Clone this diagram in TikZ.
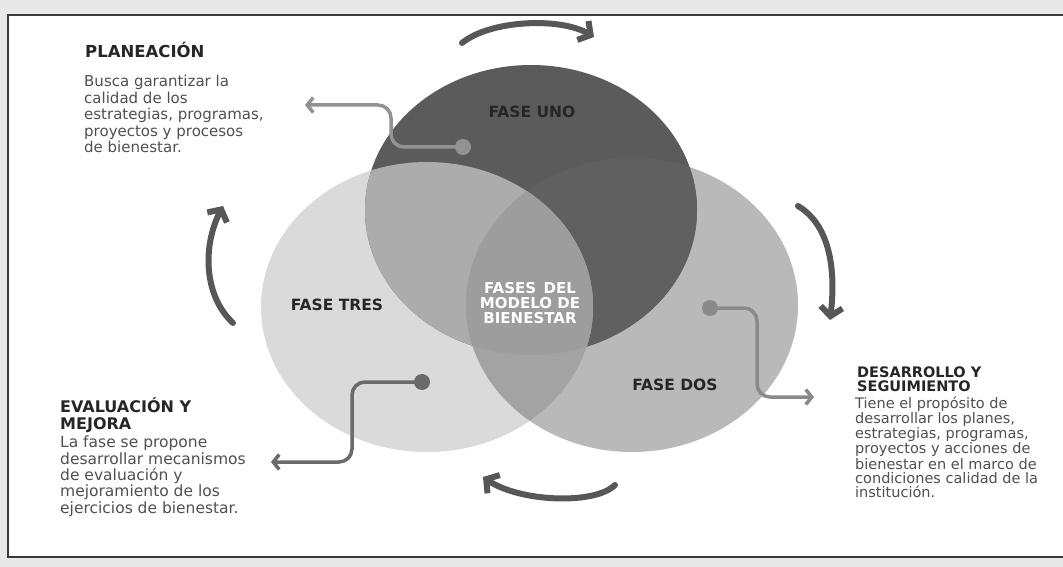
\documentclass[tikz,border=0pt]{standalone}
\usepackage{fontspec}
\setmainfont{DejaVu Sans}
\usetikzlibrary{arrows.meta}
\definecolor{scanbg}{HTML}{E8E8E8}
\definecolor{framec}{HTML}{3A3A3A}
\definecolor{ctres}{HTML}{DADADA}
\definecolor{cdos}{HTML}{B9B9B9}
\definecolor{cuno}{HTML}{5B5B5B}
\definecolor{cut}{HTML}{ACACAC}
\definecolor{ctd}{HTML}{A3A3A3}
\definecolor{cutd}{HTML}{9D9D9D}
\definecolor{cud}{HTML}{606060}
\definecolor{cyc}{HTML}{575757}
\definecolor{headc}{HTML}{262626}
\definecolor{bodyc}{HTML}{505050}
\definecolor{connA}{HTML}{929292}
\definecolor{connB}{HTML}{6A6A6A}
\definecolor{connC}{HTML}{8A8A8A}
\tikzset{
  cyclearrow/.style={draw=cyc, line width=6pt, line cap=round,
     -{Straight Barb[length=9pt,width=22pt]}},
  connline/.style={line width=3.5pt, rounded corners=13pt,
     -{Straight Barb[length=6pt,width=15pt]}},
  dotnode/.style={circle, inner sep=0pt, minimum size=16pt},
  heading/.style={anchor=base west, inner sep=0pt, text=headc, align=left, font=\bfseries},
  bodytext/.style={anchor=base west, inner sep=0pt, text=bodyc, align=left},
  phase/.style={anchor=base, inner sep=0pt, text=headc, font=\bfseries\fontsize{15.5}{16}\selectfont}
}
\newcommand{\UNO}{(531,210) ellipse [x radius=166pt, y radius=145pt]}
\newcommand{\TRES}{(427,307) ellipse [x radius=166pt, y radius=145pt]}
\newcommand{\DOS}{(632,305) ellipse [x radius=166pt, y radius=147pt]}
\begin{document}
\begin{tikzpicture}[x=1pt,y=-1pt]
\useasboundingbox (0,0) rectangle (1063,567);
\fill[scanbg] (0,0) rectangle (1063,567);
\draw[framec, line width=2pt, fill=white] (8,15) rectangle (1080,557);
% circles
\fill[cdos] \DOS;
\fill[ctres] \TRES;
\fill[cuno] \UNO;
\begin{scope}\clip \UNO; \fill[cud] \DOS; \end{scope}
\begin{scope}\clip \UNO; \fill[cut] \TRES; \end{scope}
\begin{scope}\clip \TRES; \fill[ctd] \DOS; \end{scope}
\begin{scope}\clip \UNO; \clip \TRES; \fill[cutd] \DOS; \end{scope}
% phase labels
\node[phase] (uno) at (532,118) {FASE UNO};
\node[phase] (tres) at (337,310) {FASE TRES};
\node[phase] (dos) at (675,390) {FASE DOS};
\node[anchor=base, inner sep=0pt, text=white, align=center,
      font=\bfseries\fontsize{15}{15}\selectfont] (centro) at (530,323)
      {FASES\enspace DEL\\MODELO DE\\BIENESTAR};
% cycle arrows
\coordinate (a1) at (462,43);  \coordinate (a2) at (594,37);
\coordinate (b1) at (798,206); \coordinate (b2) at (830,320);
\coordinate (c1) at (615,485); \coordinate (c2) at (483,477);
\coordinate (d1) at (233,323); \coordinate (d2) at (223,206);
\draw[cyclearrow] (a1) .. controls (490,20) and (560,17) .. (a2);
\draw[cyclearrow] (b1) .. controls (830,225) and (836,270) .. (b2);
\draw[cyclearrow] (c1) .. controls (595,505) and (520,502) .. (c2);
\draw[cyclearrow] (d1) .. controls (203,295) and (203,245) .. (d2);
% connectors with dots
\node[dotnode, fill=connA] (p1) at (463,147) {};
\node[dotnode, fill=connC] (p2) at (710,308) {};
\node[dotnode, fill=connB] (p3) at (422,382) {};
\coordinate (e1) at (305,105);
\coordinate (e2) at (814,397);
\coordinate (e3) at (271,462);
\draw[connline, draw=connA] (p1.center) -- (391,147) -- (391,105) -- (e1);
\draw[connline, draw=connC] (p2.center) -- (757,308) -- (757,397) -- (e2);
\draw[connline, draw=connB] (p3.center) -- (352,382) -- (352,462) -- (e3);
% texts (anchor = baseline of last line)
\node[heading, font=\bfseries\fontsize{16.5}{17}\selectfont] (h1) at (85,58) {PLANEACIÓN};
\node[bodytext, font=\fontsize{15}{16.5}\selectfont] (t1) at (84,153)
  {Busca garantizar la\\calidad de los\\estrategias, programas,\\proyectos y procesos\\de bienestar.};
\node[heading, font=\bfseries\fontsize{16}{17}\selectfont] (h2) at (60,429) {EVALUACIÓN Y\\MEJORA};
\node[bodytext, font=\fontsize{15.5}{16.3}\selectfont] (t2) at (60,513)
  {La fase se propone\\desarrollar mecanismos\\de evaluación y\\mejoramiento de los\\ejercicios de bienestar.};
\node[heading, font=\bfseries\fontsize{14.5}{14}\selectfont] (h3) at (857,391) {DESARROLLO Y\\SEGUIMIENTO};
\node[bodytext, font=\fontsize{14.5}{14}\selectfont] (t3) at (855,497)
  {Tiene el propósito de\\desarrollar los planes,\\estrategias, programas,\\proyectos y acciones de\\bienestar en el marco de\\condiciones calidad de la\\institución.};
\end{tikzpicture}
\end{document}
